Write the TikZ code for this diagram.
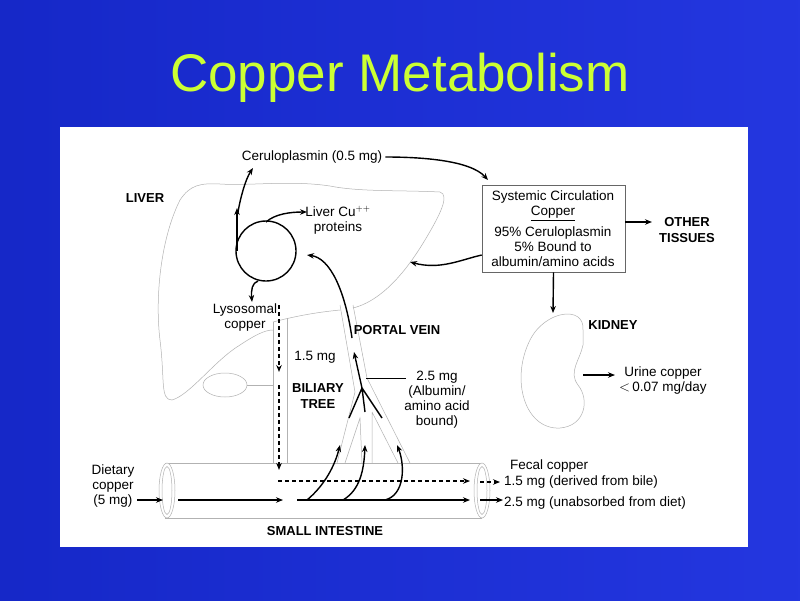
\documentclass[tikz,border=0pt]{standalone}
\usepackage{fontspec}
\setmainfont{Liberation Sans}
\usetikzlibrary{arrows.meta}
\definecolor{bgblue}{RGB}{24,44,222}
\definecolor{titlegreen}{RGB}{204,255,51}
\tikzset{
 lbl/.style={font=\fontsize{13.5}{15}\selectfont, align=center, inner sep=0pt},
 blbl/.style={font=\bfseries\fontsize{13}{15.5}\selectfont, align=center, inner sep=0pt},
 organ/.style={draw=gray!60, line width=0.5pt},
 flow/.style={line width=1.4pt, -{Stealth[length=7pt,width=5.5pt]}},
 dflow/.style={line width=1.3pt, dashed, dash pattern=on 4pt off 3pt, -{Stealth[length=7pt,width=5.5pt]}},
}
\begin{document}
\begin{tikzpicture}[x=1pt,y=-1pt]
\useasboundingbox (0,0) rectangle (800,600);
\shade[left color=bgblue!90!black, right color=bgblue!95!white] (0,0) rectangle (800,600);
\node[text=titlegreen, font=\fontsize{53}{58}\selectfont] (title) at (400,78) {Copper Metabolism};
\fill[white] (60,127) rectangle (748,547);

% liver outline
\draw[organ] (273,322) .. controls (300,315) and (320,312) .. (340,310)
  (353,308) .. controls (385,300) and (410,265) .. (425,240) .. controls (440,215) and (450,195) .. (440,192)
  .. controls (400,190) and (360,192) .. (330,186) .. controls (290,180) and (250,186) .. (220,184) .. controls (200,183) and (190,185) .. (180,200)
  .. controls (160,240) and (155,300) .. (160,340) .. controls (165,380) and (160,400) .. (172,400)
  .. controls (190,395) and (215,360) .. (240,345) .. controls (255,335) and (265,330) .. (273,330);
\draw[organ] (225,385) ellipse (22 and 12);
\draw[organ] (247,385) -- (273,385);
% biliary duct
\draw[organ] (273,322) -- (273,463);
\draw[organ] (287,318) -- (287,463);
% portal vein
\draw[organ] (340,305) -- (355,392) -- (337,463);
\draw[organ] (353,305) -- (367,378) -- (410,463);
\draw[organ] (345,463) -- (360,418) -- (362,463);
\draw[organ] (372,412) -- (372,463) (372,412) -- (398,463);
% intestine
\draw[organ] (165,463) -- (482,463) (165,518) -- (482,518);
\draw[organ, fill=white] (167,490.5) ellipse (8 and 27.5);
\draw[organ] (167,490.5) ellipse (5 and 24);
\draw[organ, fill=white] (482,490.5) ellipse (8 and 27.5);
\draw[organ] (482,490.5) ellipse (5 and 24);
% kidney
\draw[organ] (583,330) .. controls (585,305) and (545,310) .. (530,340)
  .. controls (510,380) and (525,430) .. (560,428) .. controls (585,426) and (590,400) .. (578,385)
  .. controls (568,372) and (580,360) .. (583,345) -- cycle;

% texts
\node[lbl] (cer) at (312,157) {Ceruloplasmin (0.5 mg)};
\node[blbl] (liver) at (145,198) {LIVER};
\node[lbl] (lcp) at (338,220) {Liver Cu$^{++}$\\proteins};
\node[lbl] (lys) at (245,318) {Lysosomal\\copper};
\node[blbl] (pv) at (397,330) {PORTAL VEIN};
\node[lbl] (m15) at (315,357) {1.5 mg};
\node[blbl] (bt) at (318,396) {BILIARY\\TREE};
\node[lbl] (m25) at (437,400) {2.5 mg\\(Albumin/\\amino acid\\bound)};
\node[lbl] (diet) at (113,486) {Dietary\\copper\\(5 mg)};
\node[blbl] (si) at (325,531) {SMALL INTESTINE};
\node[lbl, anchor=west] (fec) at (510,466) {Fecal copper};
\node[lbl, anchor=west] (f1) at (504,482) {1.5 mg (derived from bile)};
\node[lbl, anchor=west] (f2) at (504,503) {2.5 mg (unabsorbed from diet)};
\node[draw=gray!80!black, line width=0.6pt, minimum width=143pt, minimum height=87pt, inner sep=0pt] (box) at (553.5,228.5) {};
\node[lbl] (b1) at (553,206) {Systemic Circulation\\\underline{Copper}};
\node[lbl] (b2) at (553,247) {95\% Ceruloplasmin\\5\% Bound to\\albumin/amino acids};
\node[blbl] (ot) at (687,230) {OTHER\\TISSUES};
\node[blbl] (kid) at (613,325) {KIDNEY};
\node[lbl, anchor=west] (ur) at (619,381) {Urine copper\\$<$\,0.07 mg/day};

% liver arrows
\draw[line width=1.4pt] (266,251) circle (30);
\coordinate (cl) at (237,251);
\coordinate (up1) at (237,208);
\draw[flow] (cl) -- (up1);
\coordinate (c2a) at (238,212);
\draw[flow] (c2a) .. controls (240,200) and (245,180) .. (253,168);
\draw[flow] ([xshift=3pt]cer.east) .. controls (420,157) and (470,160) .. (488,180);
\draw[flow] (266,222) .. controls (275,214) and (290,212) .. (307,212);
\draw[flow] (258,281) .. controls (252,283) and (251,290) .. (252,302);
\draw[flow] (352,338) .. controls (345,290) and (330,258) .. (307,255);
\draw[flow] (box.east |- 0,222) -- (652,222);
\draw[flow] (box.west |- 0,255) .. controls (460,260) and (440,270) .. (410,262);
\draw[flow] (box.south) -- (553,313);
\draw[flow] (583,375) -- (615,375);
% biliary dashed
\draw[dflow] (279,305) -- (279,372);
\draw[dflow] (279,385) -- (279,470);
\draw[dflow] (278,481) -- (470,481);
\draw[dflow] (480,482) -- (500,482);
% portal branched arrow
\coordinate (bp) at (362,388);
\draw[line width=1.4pt] (bp) -- (349,418) (bp) -- (365,412) (bp) -- (382,418);
\draw[flow] (bp) -- (354,352);
\draw[line width=0.5pt] (366,378) -- (406,378);
% intestine flows
\draw[flow] (137,500) -- (163,500);
\draw[flow] (178,500) -- (283,500);
\draw[flow] (297,500) -- (470,500);
\draw[flow] (480,500) -- (503,500);
\draw[flow] (307,500) .. controls (325,485) and (335,465) .. (340,445);
\draw[flow] (343,500) .. controls (360,490) and (364,470) .. (365,445);
\draw[flow] (385,500) .. controls (405,495) and (405,465) .. (397,445);
\end{tikzpicture}
\end{document}
